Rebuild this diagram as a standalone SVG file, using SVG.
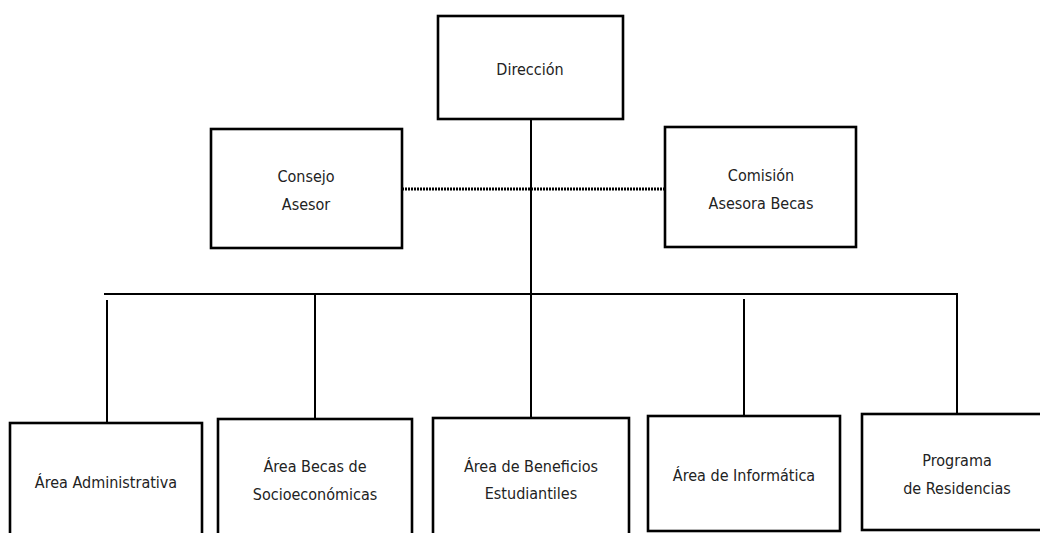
<svg xmlns="http://www.w3.org/2000/svg" width="1040" height="533" viewBox="0 0 1040 533">
<style>
.box{fill:#fff;stroke:#000;stroke-width:2.6}
.ln{fill:none;stroke:#000;stroke-width:2}
.dot{fill:none;stroke:#000;stroke-width:3;stroke-dasharray:2 1}
text{font-family:"DejaVu Sans","Liberation Sans",sans-serif;font-stretch:condensed;font-size:16px;fill:#222;text-anchor:middle}
</style>
<rect width="1040" height="533" fill="#fff"/>
<g id="connectors">
<line class="dot" x1="402" y1="189" x2="665" y2="189"/>
<line class="ln" x1="104" y1="294" x2="958" y2="294"/>
<line class="ln" x1="531" y1="119" x2="531" y2="418"/>
<line class="ln" x1="107" y1="300" x2="107" y2="423"/>
<line class="ln" x1="315" y1="293" x2="315" y2="419"/>
<line class="ln" x1="744" y1="299" x2="744" y2="416"/>
<line class="ln" x1="957" y1="294" x2="957" y2="414"/>
</g>
<g id="direccion"><rect class="box" x="438" y="16" width="185" height="103"/><text x="530" y="75">Dirección</text></g>
<g id="consejo"><rect class="box" x="211" y="129" width="191" height="119"/><text x="306" y="182">Consejo</text><text x="306" y="210">Asesor</text></g>
<g id="comision"><rect class="box" x="665" y="127" width="191" height="120"/><text x="761" y="181">Comisión</text><text x="761" y="209">Asesora Becas</text></g>
<g id="administrativa"><rect class="box" x="10" y="423" width="192" height="130"/><text x="106" y="488">Área Administrativa</text></g>
<g id="becas"><rect class="box" x="218" y="419" width="194" height="130"/><text x="315" y="472">Área Becas de</text><text x="315" y="500">Socioeconómicas</text></g>
<g id="beneficios"><rect class="box" x="433" y="418" width="196" height="130"/><text x="531" y="472">Área de Beneficios</text><text x="531" y="499">Estudiantiles</text></g>
<g id="informatica"><rect class="box" x="648" y="416" width="192" height="115"/><text x="744" y="481">Área de Informática</text></g>
<g id="residencias"><rect class="box" x="862" y="414" width="190" height="116"/><text x="957" y="466">Programa</text><text x="957" y="494">de Residencias</text></g>
</svg>
